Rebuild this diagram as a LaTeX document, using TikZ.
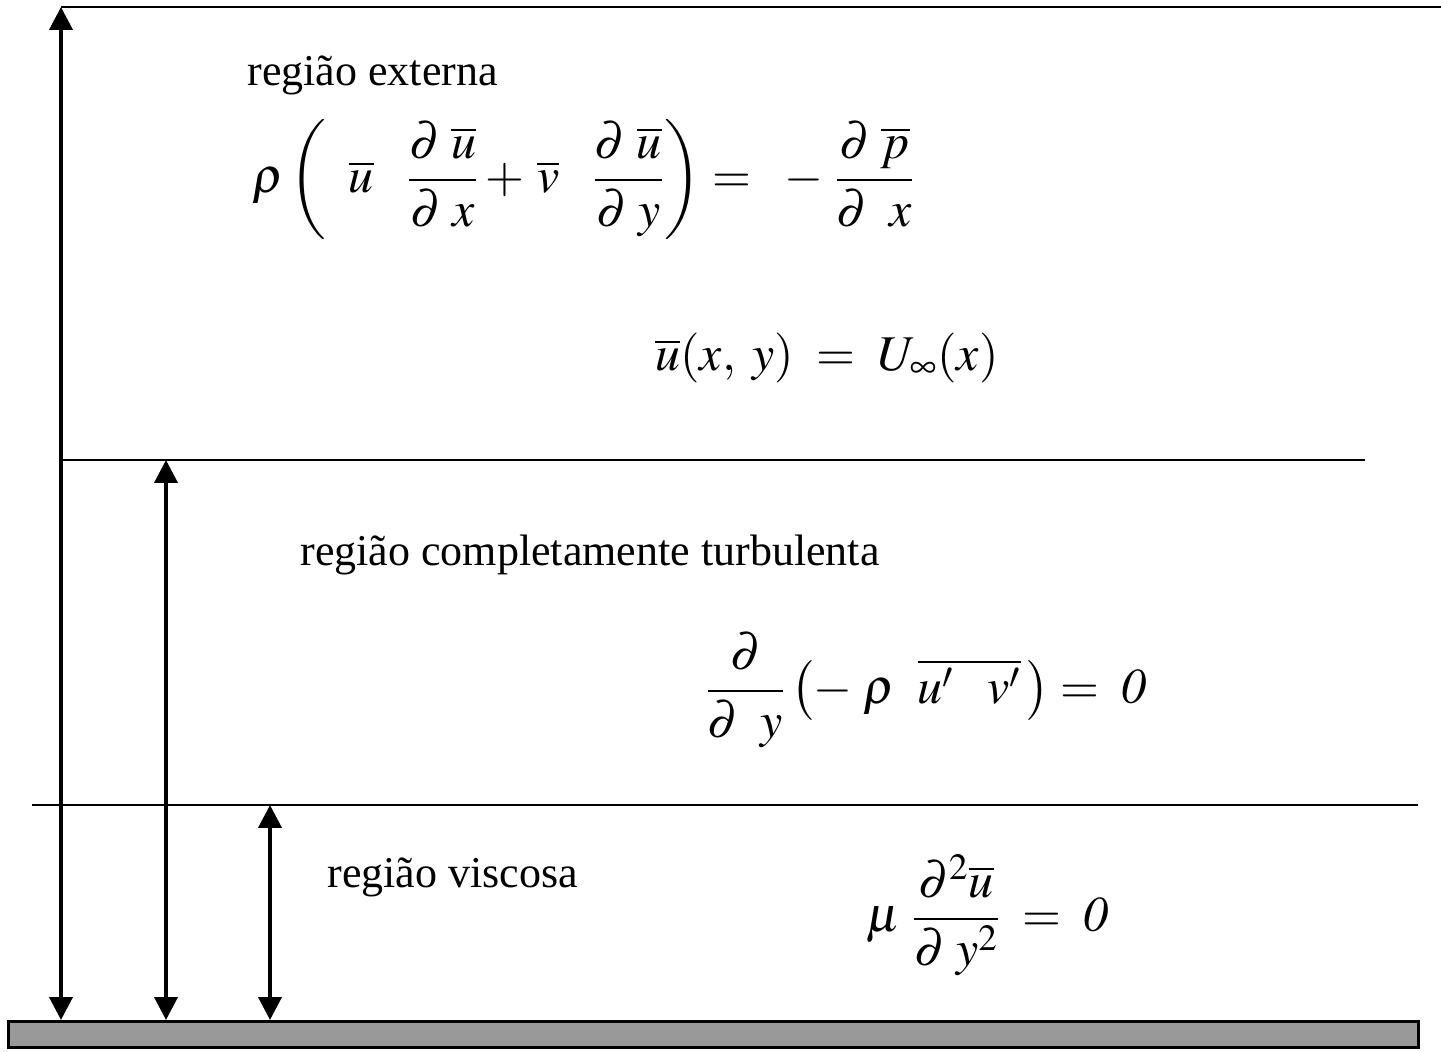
\documentclass[tikz,border=0pt]{standalone}
\usepackage{mathptmx}
\usepackage[no-math]{fontspec}
\setmainfont{Liberation Serif}
\usetikzlibrary{arrows.meta}

\begin{document}
\begin{tikzpicture}[x=0.5pt,y=-0.5pt,
    limite/.style={line width=1.3pt},
    altura/.style={line width=2pt,{Triangle[length=11.5pt,width=11.5pt]}-{Triangle[length=11.5pt,width=11.5pt]}},
    rotulo/.style={anchor=west,inner sep=0pt,font=\fontsize{22}{26}\selectfont},
    equacao/.style={inner sep=0pt,font=\fontsize{25}{30}\selectfont}]
    \useasboundingbox (0,0) rectangle (1441,1052);

    % Region boundaries
    \coordinate (ext-a) at (61,7);
    \coordinate (ext-b) at (1441,7);
    \coordinate (turb-a) at (61,460);
    \coordinate (turb-b) at (1365,460);
    \coordinate (visc-a) at (32,805);
    \coordinate (visc-b) at (1418,805);
    \draw[limite] (ext-a) -- (ext-b);
    \draw[limite] (turb-a) -- (turb-b);
    \draw[limite] (visc-a) -- (visc-b);

    % Wall
    \node[draw, line width=1.5pt, fill=black!40, minimum width=705pt, minimum height=13pt,
        inner sep=0pt, anchor=north west] (parede) at (7,1020) {};

    % Thickness arrows
    \coordinate (p1) at (61,1020);
    \coordinate (p2) at (166,1020);
    \coordinate (p3) at (270,1020);
    \coordinate (t2) at (166,460);
    \coordinate (t3) at (270,805);
    \draw[altura] (p1) -- (ext-a);
    \draw[altura] (p2) -- (t2);
    \draw[altura] (p3) -- (t3);

    % Labels
    \node[rotulo] (externa) at (247,75) {região externa};
    \node[rotulo] (turbulenta) at (300,555) {região completamente turbulenta};
    \node[rotulo] (viscosa) at (327,877) {região viscosa};

    % Equations
    \node[equacao, anchor=west] (eq-ext) at (252,180)
        {$\displaystyle \rho\left(\;\;\overline{u}\;\;\;\frac{\partial\;\overline{u}}{\partial\;x}+\,\overline{v}\;\;\;\frac{\partial\;\overline{u}}{\partial\;y}\right)=\;\;-\;\frac{\partial\;\overline{p}}{\partial\;\;x}$};
    \node[equacao, anchor=west] (eq-inf) at (655,358)
        {$\overline{u}(x,\;y)\;=\;U_{\infty}(x)$};
    \node[equacao, anchor=west] (eq-turb) at (705,690)
        {$\displaystyle \frac{\partial}{\partial\;\;y}\left(-\;\rho\;\;\overline{u^{\prime}\;\;\;v^{\prime}}\,\right)=\;\mathit{0}$};
    \node[equacao, anchor=west] (eq-visc) at (866,915)
        {$\displaystyle \mu\;\frac{\partial^{2}\overline{u}}{\partial\;y^{2}}\;=\;\mathit{0}$};
\end{tikzpicture}
\end{document}
